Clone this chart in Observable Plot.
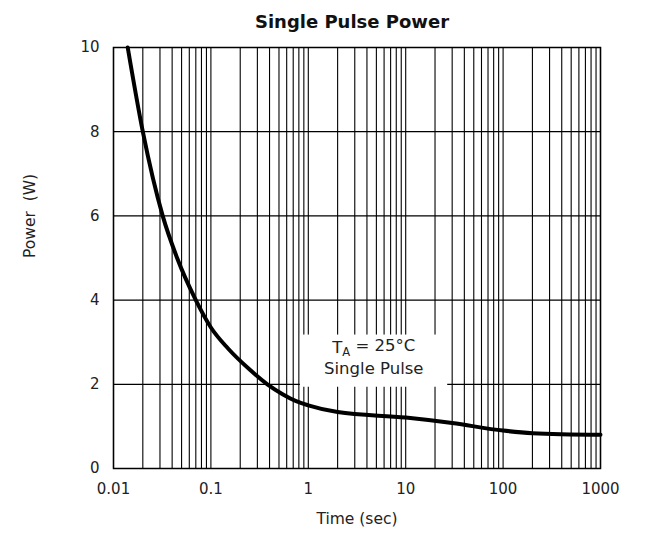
<!DOCTYPE html>
<html>
<head>
<meta charset="utf-8">
<script src="https://cdn.jsdelivr.net/npm/d3@7"></script>
<script src="https://cdn.jsdelivr.net/npm/@observablehq/plot@0.6"></script>
<style>
  body { margin: 0; background: #fff; font-family: "DejaVu Sans", sans-serif; }
  #title { height: 34px; width: 646px; box-sizing: border-box; padding-left: 58px; text-align: center;
           font: bold 18px "DejaVu Sans", sans-serif; line-height: 44px; color: #111; overflow: visible; }
</style>
</head>
<body>
<div id="title">Single Pulse Power</div>
<div id="chart"></div>
<script>
// Curve: time (sec) vs power (W)
const time  = [0.014, 0.02, 0.032, 0.045, 0.07, 0.1, 0.15, 0.25, 0.38, 0.55, 0.75, 1, 2, 10, 30, 100, 200, 1000];
const power = [10, 8, 6, 5, 4, 3.35, 2.85, 2.35, 2.0, 1.76, 1.6, 1.5, 1.34, 1.21, 1.08, 0.9, 0.84, 0.8];

const xTicks = [0.01, 0.1, 1, 10, 100, 1000];
const xTickLabels = ["0.01", "0.1", "1", "10", "100", "1000"];
const yTicks = [0, 2, 4, 6, 8, 10];
const yGrid = [2, 4, 6, 8];
const multipliers = [1, 2, 3, 4, 5, 6, 7, 8, 9];
const decades = [0.01, 0.1, 1, 10, 100];

const annotationLines = ["TA = 25°C", "Single Pulse"];
const annotationX = 4.7;
const annotationY = [2.88, 2.36];
const boxX = [0.83, 27];
const boxY = [1.93, 3.17];

const xGrid = decades.flatMap(d => multipliers.map(m => m * d)).concat([1000]);
const curve = time.map((t, i) => ({t, p: power[i]}));

const chart = Plot.plot({
  width: 646,
  height: 505,
  marginTop: 13,
  marginBottom: 71,
  marginLeft: 113,
  marginRight: 46,
  style: {fontFamily: "DejaVu Sans, sans-serif", fontSize: "15px", color: "#222", background: "#fff", overflow: "visible"},
  x: {type: "log", domain: [0.01, 1000], ticks: xTicks, tickFormat: (d) => xTickLabels[xTicks.indexOf(d)], label: null, tickSize: 0, tickPadding: 15},
  y: {domain: [0, 10], ticks: yTicks, label: null, tickSize: 0, tickPadding: 14},
  marks: [
    Plot.ruleX(xGrid, {stroke: "#000", strokeWidth: 1.1}),
    Plot.ruleY(yGrid, {stroke: "#000", strokeWidth: 1.3}),
    Plot.rect([{x1: boxX[0], x2: boxX[1], y1: boxY[0], y2: boxY[1]}], {x1: "x1", x2: "x2", y1: "y1", y2: "y2", fill: "#fff"}),
    Plot.text(annotationLines, {x: () => annotationX, y: (d, i) => annotationY[i], text: d => d, fontSize: 16.5, fill: "#222"}),
    Plot.line(curve, {x: "t", y: "p", stroke: "#000", strokeWidth: 4, curve: "monotone-x"}),
    Plot.frame({stroke: "#000", strokeWidth: 1.5}),
    Plot.text(["Time (sec)"], {frameAnchor: "bottom", dy: 55, fontSize: 15.5, fill: "#222"}),
    Plot.text(["Power  (W)"], {frameAnchor: "left", dx: -83, rotate: -90, fontSize: 15.5, fill: "#222"})
  ]
});

// Subscript "A" in T_A
d3.select(chart).selectAll("text").each(function() {
  if (this.textContent === "TA = 25°C") {
    const t = d3.select(this);
    t.text(null);
    t.append("tspan").text("T");
    t.append("tspan").attr("font-size", "0.7em").attr("dy", "0.3em").text("A");
    t.append("tspan").attr("dy", "-0.3em").text(" = 25°C");
  }
});

document.getElementById("chart").appendChild(chart);
</script>
</body>
</html>
